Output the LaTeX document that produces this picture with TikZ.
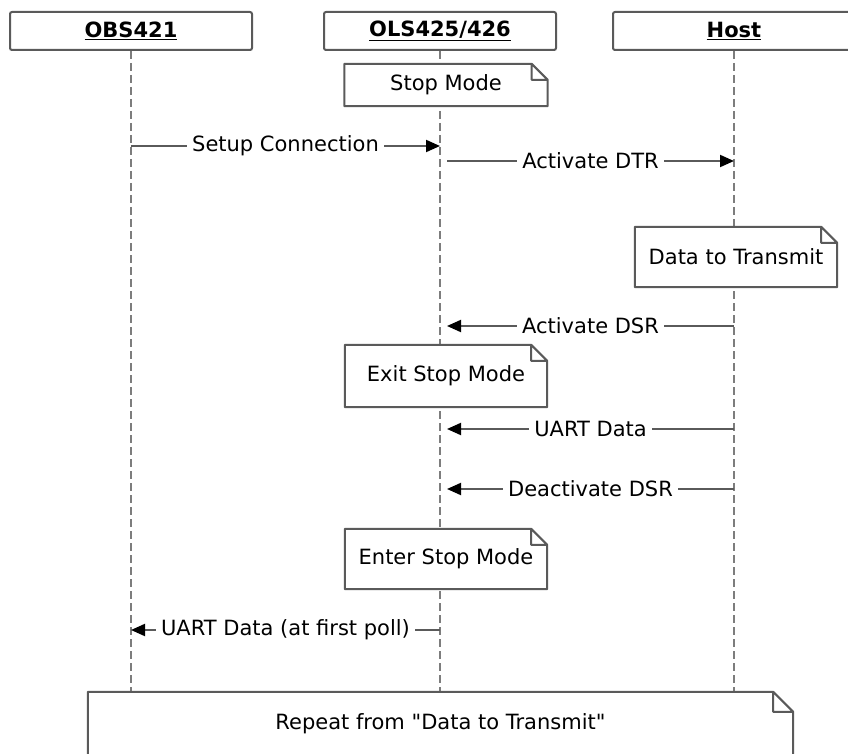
\documentclass[tikz,border=0pt]{standalone}
\usepackage{fontspec}
\setmainfont{DejaVu Sans}[Ligatures=TeXOff]
\usetikzlibrary{arrows.meta,backgrounds,calc,positioning}

\definecolor{boxline}{RGB}{90,90,90}
\definecolor{lifegray}{RGB}{125,125,125}

% outline of a note with folded corner, drawn round a node
\newcommand{\dogear}[2]{%
  \draw[noteline] (#1.north west) -- ([xshift=-#2]#1.north east) -- ([yshift=-#2]#1.north east)
    -- (#1.south east) -- (#1.south west) -- cycle
    ([xshift=-#2]#1.north east) |- ([yshift=-#2]#1.north east);}

\begin{document}
\begin{tikzpicture}
	[x=1pt, y=-1pt,
	 txt/.style={font=\fontsize{21}{25}\selectfont},
	 head/.style={txt, draw=boxline, line width=2pt, rounded corners=2pt, fill=white,
	   minimum height=38pt, font=\fontsize{21}{25}\selectfont\bfseries},
	 note/.style={txt, fill=white, inner sep=0pt},
	 noteline/.style={draw=boxline, line width=2pt, line join=round},
	 life/.style={draw=lifegray, line width=2.5pt, dash pattern=on 8pt off 4pt},
	 msg/.style={draw=boxline, line width=2pt, -{Triangle[length=14pt, width=12pt, color=black]}},
	 lbl/.style={txt, midway, fill=white, inner xsep=5pt, inner ysep=1pt}]

	\useasboundingbox (0,0) rectangle (848,754);
	\clip (0,0) rectangle (848,754);

	\node[head, minimum width=242pt] (obs) at (131,31) {\underline{OBS421}};
	\node[head, minimum width=232pt] (ols) at (440,31) {\underline{OLS425/426}};
	\node[head, minimum width=242pt] (host) at (734,31) {\underline{Host}};

	\node[note, minimum width=203pt, minimum height=42pt] (stop) at (446,85) {Stop Mode};
	\node[note, minimum width=202pt, minimum height=60pt] (data) at (736,257) {Data to Transmit};
	\node[note, minimum width=202pt, minimum height=62pt] (exit) at (446,376) {Exit Stop Mode};
	\node[note, minimum width=202pt, minimum height=60pt] (enter) at (446,559) {Enter Stop Mode};
	\node[note, minimum width=705pt, minimum height=64pt] (rep) at (440.5,724) {Repeat from "Data to Transmit"};

	\dogear{stop}{16pt}
	\dogear{data}{16pt}
	\dogear{exit}{16pt}
	\dogear{enter}{16pt}
	\dogear{rep}{20pt}

	\begin{scope}[on background layer]
	\foreach \p in {obs,ols,host}
		\draw[life] (\p.south) -- (\p.south |- rep.north);
	\end{scope}

	\coordinate (olsact) at ([xshift=7pt]ols.south);

	\draw[msg] (obs |- 0,146) -- node[lbl] {Setup Connection} (ols |- 0,146);
	\draw[msg] (olsact |- 0,161) -- node[lbl] {Activate DTR} (host |- 0,161);
	\draw[msg] (host |- 0,326) -- node[lbl] {Activate DSR} (olsact |- 0,326);
	\draw[msg] (host |- 0,429) -- node[lbl] {UART Data} (olsact |- 0,429);
	\draw[msg] (host |- 0,489) -- node[lbl] {Deactivate DSR} (olsact |- 0,489);
	\draw[msg] (ols |- 0,630) -- node[lbl] {UART Data (at first poll)} (obs |- 0,630);
\end{tikzpicture}
\end{document}
